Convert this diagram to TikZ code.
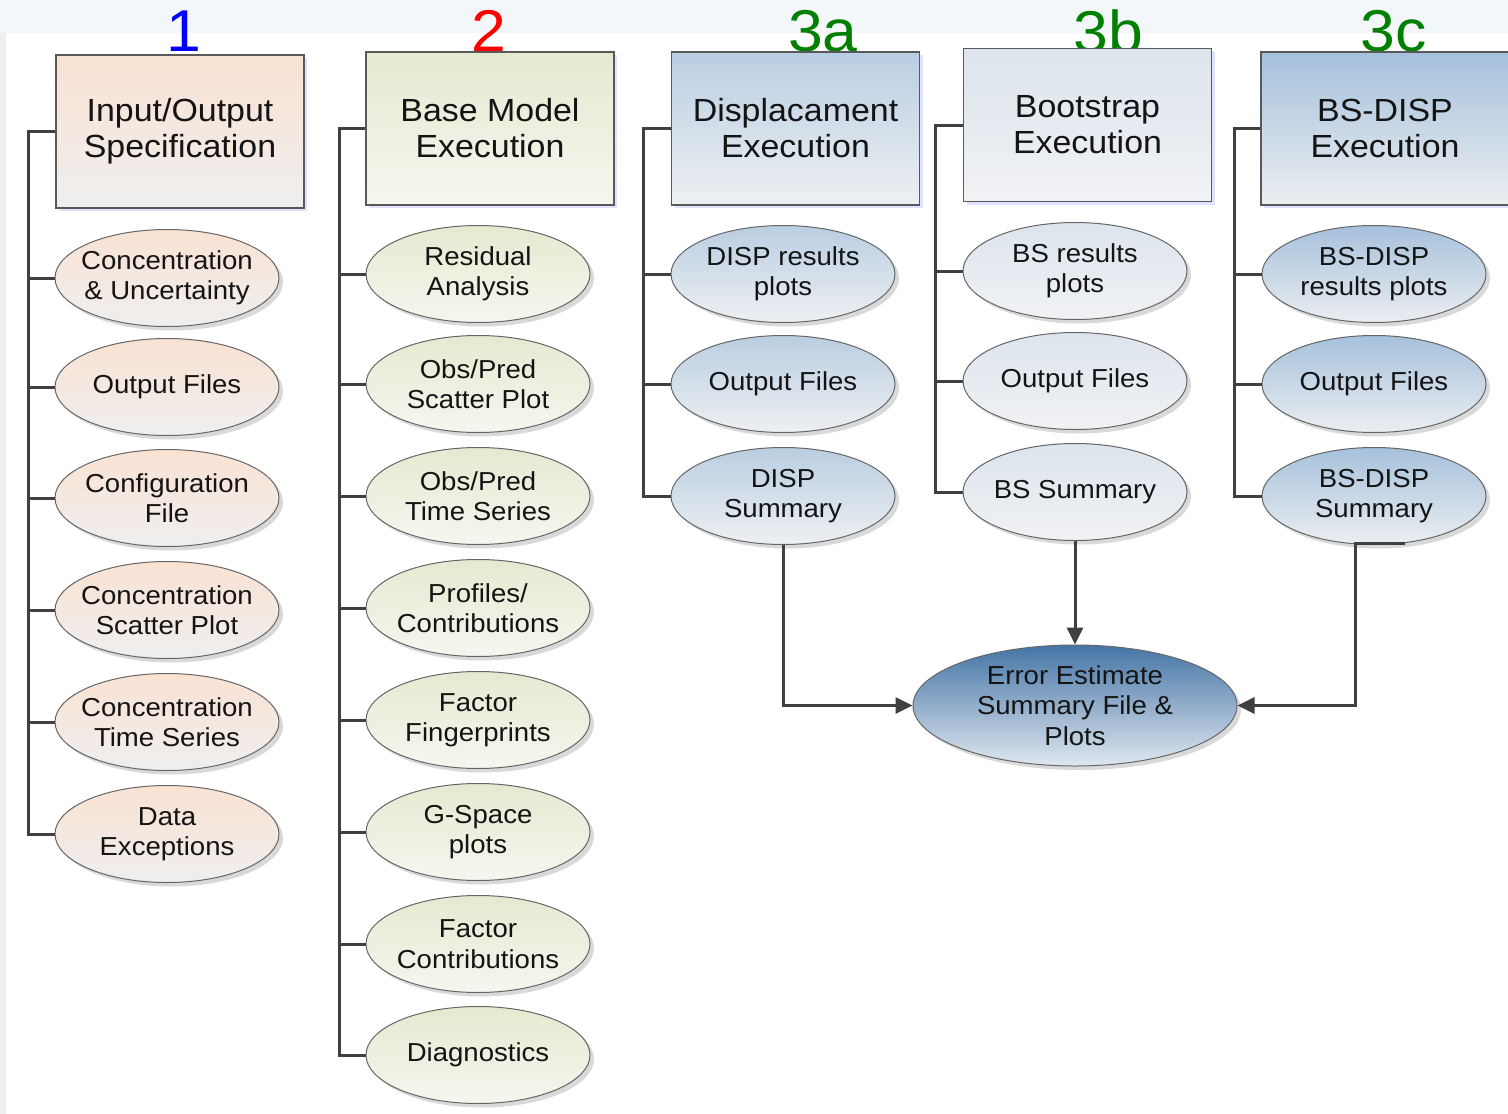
\documentclass[tikz,border=0pt]{standalone}
\usepackage{fontspec}
\setmainfont{Liberation Sans}[FakeStretch=1.06]
\usetikzlibrary{shapes.geometric,shadows,arrows.meta}
\definecolor{lnk}{HTML}{404040}
\definecolor{bgA}{HTML}{F4F7F9}
\definecolor{bgL}{HTML}{E9EFF3}
\definecolor{pchT}{HTML}{F9E2D2}
\definecolor{pchB}{HTML}{EFEFEF}
\definecolor{grnT}{HTML}{E4EAD0}
\definecolor{grnB}{HTML}{F6F6EF}
\definecolor{bluT}{HTML}{B9CEE2}
\definecolor{bluB}{HTML}{EEF0F2}
\definecolor{lbT}{HTML}{DCE4ED}
\definecolor{lbB}{HTML}{F1F2F4}
\definecolor{dbT}{HTML}{A6C1DC}
\definecolor{dbB}{HTML}{EBEEF1}
\definecolor{errT}{HTML}{4575A6}
\definecolor{errB}{HTML}{DFE7F0}
\definecolor{numgreen}{HTML}{008000}
\tikzset{
  box/.style={draw=black!65, line width=1.2pt, minimum width=248pt, minimum height=153pt,
    inner sep=0pt, align=center, text=black!92, font=\fontsize{32}{36}\selectfont,
    drop shadow={shadow xshift=3pt, shadow yshift=-3pt, fill=blue!12, opacity=1}},
  ell/.style={ellipse, draw=black!60, line width=1pt, minimum width=224pt, minimum height=97pt,
    inner xsep=-20pt, inner ysep=-6pt, align=center, text=black!92, font=\fontsize{26}{30.5}\selectfont,
    drop shadow={shadow xshift=4pt, shadow yshift=-4pt, fill=black!15, opacity=1}},
  link/.style={draw=lnk, line width=3pt},
  arr/.style={link, -{Triangle[length=17pt,width=16pt]}},
  num/.style={font=\fontsize{59}{59}\selectfont, inner sep=0pt},
  c1/.style={top color=pchT, bottom color=pchB},
  c2/.style={top color=grnT, bottom color=grnB},
  c3/.style={top color=bluT, bottom color=bluB},
  c4/.style={top color=lbT, bottom color=lbB},
  c5/.style={top color=dbT, bottom color=dbB}
}
\begin{document}
\begin{tikzpicture}[x=1pt,y=-1pt]
\useasboundingbox (0,0) rectangle (1508,1114);
\fill[bgA] (0,0) rectangle (1508,1114);
\fill[bgL] (0,33) rectangle (6,1114);
\fill[white] (6,33) rectangle (1508,1114);

% numbers
\node[num, text=blue] (n1) at (184,31) {1};
\node[num, text=red] (n2) at (489,31) {2};
\node[num, text=numgreen] (n3a) at (823,31) {3a};
\node[num, text=numgreen] (n3b) at (1108,31) {3b};
\node[num, text=numgreen] (n3c) at (1394,31) {3c};

% column 1
\node[box, c1] (b1) at (180,131.5) {Input/Output\\Specification};
\node[ell, c1] (a1) at (167,278) {Concentration\\\& Uncertainty};
\node[ell, c1] (a2) at (167,387) {Output Files};
\node[ell, c1] (a3) at (167,498) {Configuration\\File};
\node[ell, c1] (a4) at (167,610) {Concentration\\Scatter Plot};
\node[ell, c1] (a5) at (167,722) {Concentration\\Time Series};
\node[ell, c1] (a6) at (167,834) {Data\\Exceptions};
\coordinate (s1) at (28,131.5);
\draw[link] (b1.west) -- (s1) |- (a6.west);
\foreach \i in {1,...,5} \draw[link] (s1 |- a\i.west) -- (a\i.west);

% column 2
\node[box, c2] (b2) at (490,128.5) {Base Model\\Execution};
\node[ell, c2] (m1) at (478,274) {Residual\\Analysis};
\node[ell, c2] (m2) at (478,384) {Obs/Pred\\Scatter Plot};
\node[ell, c2] (m3) at (478,496) {Obs/Pred\\Time Series};
\node[ell, c2] (m4) at (478,608) {Profiles/\\Contributions};
\node[ell, c2] (m5) at (478,720) {Factor\\Fingerprints};
\node[ell, c2] (m6) at (478,832) {G-Space\\plots};
\node[ell, c2] (m7) at (478,944) {Factor\\Contributions};
\node[ell, c2] (m8) at (478,1055) {Diagnostics};
\coordinate (s2) at (339,128.5);
\draw[link] (b2.west) -- (s2) |- (m8.west);
\foreach \i in {1,...,7} \draw[link] (s2 |- m\i.west) -- (m\i.west);

% column 3a
\node[box, c3] (b3) at (795.5,128.5) {Displacament\\Execution};
\node[ell, c3] (d1) at (783,274) {DISP results\\plots};
\node[ell, c3] (d2) at (783,384) {Output Files};
\node[ell, c3] (d3) at (783,496) {DISP\\Summary};
\coordinate (s3) at (643,128.5);
\draw[link] (b3.west) -- (s3) |- (d3.west);
\foreach \i in {1,2} \draw[link] (s3 |- d\i.west) -- (d\i.west);

% column 3b
\node[box, c4] (b4) at (1087.5,125) {Bootstrap\\Execution};
\node[ell, c4] (p1) at (1075,271) {BS results\\plots};
\node[ell, c4] (p2) at (1075,381) {Output Files};
\node[ell, c4] (p3) at (1075,492) {BS Summary};
\coordinate (s4) at (935,125);
\draw[link] (b4.west) -- (s4) |- (p3.west);
\foreach \i in {1,2} \draw[link] (s4 |- p\i.west) -- (p\i.west);

% column 3c
\node[box, c5] (b5) at (1385,128.5) {BS-DISP\\Execution};
\node[ell, c5] (q1) at (1374,274) {BS-DISP\\results plots};
\node[ell, c5] (q2) at (1374,384) {Output Files};
\node[ell, c5] (q3) at (1374,496) {BS-DISP\\Summary};
\coordinate (s5) at (1234,128.5);
\draw[link] (b5.west) -- (s5) |- (q3.west);
\foreach \i in {1,2} \draw[link] (s5 |- q\i.west) -- (q\i.west);

% error estimate
\node[ell, minimum width=324pt, minimum height=121pt, top color=errT, bottom color=errB] (err) at (1075,705.5) {Error Estimate\\Summary File \&\\Plots};

\coordinate (q3s) at (1405,543);
\coordinate (q3c) at (1355,543);
\draw[arr] (d3.south) |- (err.west);
\draw[arr] (p3.south) -- (err.north);
\draw[arr] (q3s) -- (q3c) |- (err.east);
\end{tikzpicture}
\end{document}
